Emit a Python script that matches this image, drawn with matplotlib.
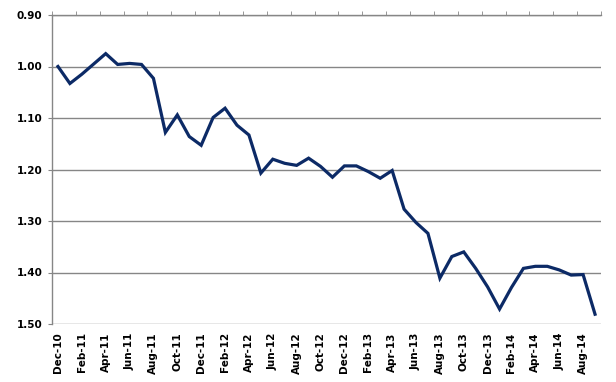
import matplotlib.pyplot as plt
import numpy as np

# monthly series, Dec-10 .. Sep-14
months = ["Dec-10", "Jan-11", "Feb-11", "Mar-11", "Apr-11", "May-11", "Jun-11", "Jul-11",
          "Aug-11", "Sep-11", "Oct-11", "Nov-11", "Dec-11", "Jan-12", "Feb-12", "Mar-12",
          "Apr-12", "May-12", "Jun-12", "Jul-12", "Aug-12", "Sep-12", "Oct-12", "Nov-12",
          "Dec-12", "Jan-13", "Feb-13", "Mar-13", "Apr-13", "May-13", "Jun-13", "Jul-13",
          "Aug-13", "Sep-13", "Oct-13", "Nov-13", "Dec-13", "Jan-14", "Feb-14", "Mar-14",
          "Apr-14", "May-14", "Jun-14", "Jul-14", "Aug-14", "Sep-14"]
values = [1.000, 1.033, 1.015, 0.995, 0.975, 0.996, 0.994, 0.996,
          1.023, 1.128, 1.094, 1.136, 1.153, 1.099, 1.081, 1.114,
          1.133, 1.207, 1.180, 1.188, 1.192, 1.178, 1.194, 1.215,
          1.193, 1.193, 1.204, 1.217, 1.202, 1.277, 1.303, 1.324,
          1.411, 1.369, 1.360, 1.392, 1.428, 1.471, 1.429, 1.392,
          1.388, 1.388, 1.395, 1.405, 1.404, 1.481]
y_ticks = [0.90, 1.00, 1.10, 1.20, 1.30, 1.40, 1.50]

grey = "#868686"
fig = plt.figure(figsize=(6.16, 3.82), dpi=100)
ax = fig.add_axes([52 / 616, 1 - 324 / 382, 549 / 616, 309 / 382])

x = np.arange(len(values))
ax.plot(x, values, color="#0c2a66", linewidth=2.3, solid_joinstyle="miter", zorder=3)

ax.set_xlim(-0.5, len(values) - 0.5)
ax.set_ylim(1.50, 0.90)
ax.set_yticks(y_ticks)
ax.set_yticklabels([f"{v:.2f}" for v in y_ticks], fontsize=7.5, fontweight="bold")
ax.grid(axis="y", color=grey, linewidth=1.0)
ax.set_axisbelow(True)

ax.set_xticks(x[::2])
ax.set_xticklabels(months[::2], rotation=90, fontsize=7.5, fontweight="bold")
ax.set_xticks(np.arange(-0.5, len(values), 2), minor=True)
ax.tick_params(axis="x", which="major", length=0, pad=6)
ax.tick_params(axis="x", which="minor", top=True, bottom=False, direction="out",
               length=3, color=grey)
ax.tick_params(axis="y", length=3, color=grey, pad=4)

for side in ["right", "bottom"]:
    ax.spines[side].set_visible(False)
for side in ["left", "top"]:
    ax.spines[side].set_color(grey)
    ax.spines[side].set_linewidth(1.0)

fig.savefig("out.png", dpi=100)
